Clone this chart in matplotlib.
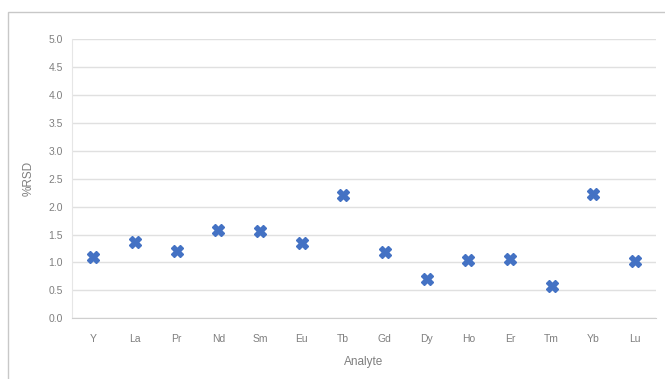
import matplotlib.pyplot as plt
from matplotlib.patches import Rectangle
import numpy as np

# ---- data ----
analytes = ['Y', 'La', 'Pr', 'Nd', 'Sm', 'Eu', 'Tb', 'Gd', 'Dy', 'Ho', 'Er', 'Tm', 'Yb', 'Lu']
rsd = [1.10, 1.36, 1.21, 1.59, 1.57, 1.35, 2.21, 1.19, 0.70, 1.04, 1.06, 0.58, 2.22, 1.03]
yticks = np.arange(0, 5.01, 0.5)

txt = '#7f7f7f'
plt.rcParams['font.family'] = ['Liberation Sans', 'DejaVu Sans']

fig = plt.figure(figsize=(6.65, 3.79), dpi=100)
# light frame round the chart area (runs off the right/bottom edges)
fig.patches.append(Rectangle((8/665, -0.05), 1.1, 1 - 12/379 + 0.05,
                             transform=fig.transFigure, fill=False,
                             edgecolor='#c8c8c8', lw=1.0))

ax = fig.add_axes([0.109, 0.160, 0.877, 0.737])
ax.plot(analytes, rsd, linestyle='none', marker='X', markersize=9,
        color='#4472C4', markeredgecolor='#4472C4', zorder=3)

ax.set_xlim(-0.5, len(analytes) - 0.5)
ax.set_ylim(0, 5)
ax.set_yticks(yticks)
ax.set_yticklabels([f'{v:.1f}' for v in yticks])
ax.yaxis.grid(True, color='#e0e0e0', lw=1.0)
ax.set_axisbelow(True)

for s in ['top', 'right']:
    ax.spines[s].set_visible(False)
ax.spines['left'].set_color('#e6e6e6')
ax.spines['bottom'].set_color('#cfcfcf')
ax.tick_params(axis='both', length=0, labelsize=7.5, labelcolor=txt)
ax.tick_params(axis='x', pad=11)
ax.tick_params(axis='y', pad=7)

ax.set_xlabel('Analyte', fontsize=8.5, color=txt, labelpad=9)
ax.set_ylabel('%RSD', fontsize=8.5, color=txt, labelpad=10)

fig.savefig('out.png', dpi=100)
